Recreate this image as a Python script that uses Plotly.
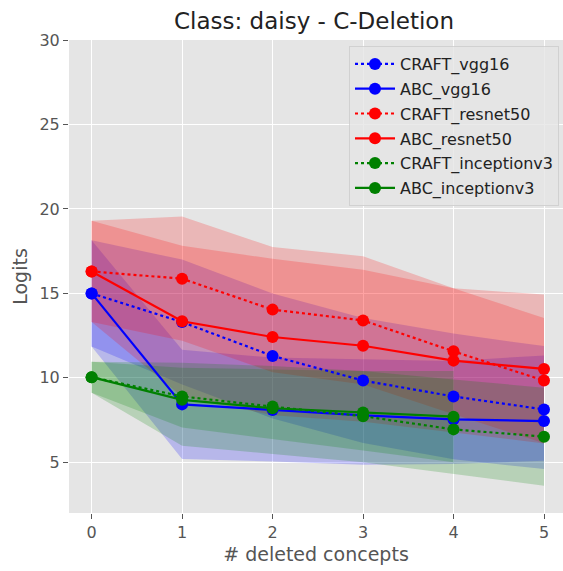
import plotly.graph_objects as go

x = [0, 1, 2, 3, 4, 5]
x_abc_inc = [0, 1, 2, 3, 4]

# means
craft_vgg16 = [15.0, 13.3, 11.3, 9.84, 8.9, 8.13]
abc_vgg16 = [15.0, 8.43, 8.1, 7.78, 7.54, 7.44]
craft_resnet50 = [16.3, 15.87, 14.04, 13.4, 11.57, 9.84]
abc_resnet50 = [16.3, 13.35, 12.42, 11.9, 11.02, 10.53]
craft_inceptionv3 = [10.04, 8.9, 8.3, 7.73, 6.95, 6.52]
abc_inceptionv3 = [10.04, 8.7, 8.2, 7.95, 7.7]

# band edges (upper / lower)
craft_vgg16_up = [18.15, 17.0, 15.0, 13.54, 12.62, 11.88]
craft_vgg16_lo = [11.85, 9.6, 7.6, 6.14, 5.18, 4.6]
abc_vgg16_up = [18.15, 11.66, 11.2, 11.08, 11.0, 11.33]
abc_vgg16_lo = [11.85, 5.2, 5.05, 4.85, 4.9, 5.1]
craft_resnet50_up = [19.3, 19.55, 17.75, 17.2, 15.3, 13.55]
craft_resnet50_lo = [13.3, 12.19, 10.33, 9.6, 7.84, 6.13]
abc_resnet50_up = [19.3, 17.82, 17.05, 16.4, 15.3, 14.94]
abc_resnet50_lo = [13.3, 8.88, 7.79, 7.4, 6.74, 6.12]
craft_inceptionv3_up = [10.96, 10.9, 10.7, 10.4, 9.9, 9.42]
craft_inceptionv3_lo = [9.12, 5.98, 5.5, 5.0, 4.3, 3.62]
abc_inceptionv3_up = [10.96, 10.6, 10.5, 10.4, 10.4]
abc_inceptionv3_lo = [9.12, 7.06, 6.4, 5.7, 5.0]

series = [
    ("CRAFT_vgg16", x, craft_vgg16, craft_vgg16_up, craft_vgg16_lo, "#0000ff", "rgba(0,0,255,0.2)", "dot"),
    ("ABC_vgg16", x, abc_vgg16, abc_vgg16_up, abc_vgg16_lo, "#0000ff", "rgba(0,0,255,0.2)", "solid"),
    ("CRAFT_resnet50", x, craft_resnet50, craft_resnet50_up, craft_resnet50_lo, "#ff0000", "rgba(255,0,0,0.2)", "dot"),
    ("ABC_resnet50", x, abc_resnet50, abc_resnet50_up, abc_resnet50_lo, "#ff0000", "rgba(255,0,0,0.2)", "solid"),
    ("CRAFT_inceptionv3", x, craft_inceptionv3, craft_inceptionv3_up, craft_inceptionv3_lo, "#008000", "rgba(0,128,0,0.2)", "dot"),
    ("ABC_inceptionv3", x_abc_inc, abc_inceptionv3, abc_inceptionv3_up, abc_inceptionv3_lo, "#008000", "rgba(0,128,0,0.2)", "solid"),
]

fig = go.Figure()
for name, xs, m, up, lo, col, fcol, dash in series:
    fig.add_trace(go.Scatter(
        x=list(xs) + list(xs)[::-1], y=list(up) + list(lo)[::-1],
        fill="toself", fillcolor=fcol, line=dict(width=0), mode="lines",
        showlegend=False, hoverinfo="skip"))
for name, xs, m, up, lo, col, fcol, dash in series:
    fig.add_trace(go.Scatter(
        x=xs, y=m, name=name, legendgroup=name, mode="lines+markers",
        line=dict(color=col, width=2.2, dash=dash),
        marker=dict(color=col, size=12)))

font = "DejaVu Sans"
fig.update_layout(
    width=563, height=571,
    margin=dict(l=69, r=0, t=40, b=58),
    paper_bgcolor="white", plot_bgcolor="#e5e5e5",
    font=dict(family=font, color="#555555", size=16),
    title=dict(text="Class: daisy - C-Deletion", x=(314 - 69) / 494, xanchor="center",
               xref="paper", yref="container", y=1 - 21/571, yanchor="middle",
               font=dict(family=font, size=23, color="#222222")),
    legend=dict(x=(559 - 69) / 494, xanchor="right", y=1 - 6/473, yanchor="top",
                bgcolor="rgba(229,229,229,0.8)", bordercolor="rgba(204,204,204,0.8)",
                borderwidth=1, font=dict(family=font, size=16, color="#222222"),
                tracegroupgap=1, itemwidth=40),
    showlegend=True,
)
fig.update_xaxes(range=[-0.25, 5.21], tickvals=x, ticktext=[str(v) for v in x],
                 showgrid=True, gridcolor="white", gridwidth=1.2, zeroline=False,
                 ticks="outside", ticklen=5, tickcolor="#555555", tickfont=dict(size=16),
                 title=dict(text="# deleted concepts", font=dict(size=19, color="#555555"), standoff=6))
fig.update_yaxes(range=[2, 30.001], tickvals=[5, 10, 15, 20, 25, 30],
                 showgrid=True, gridcolor="white", gridwidth=1.2, zeroline=False,
                 ticks="outside", ticklen=5, tickcolor="#555555", tickfont=dict(size=16),
                 title=dict(text="Logits", font=dict(size=19, color="#555555"), standoff=6))

fig.write_html("out.html")
